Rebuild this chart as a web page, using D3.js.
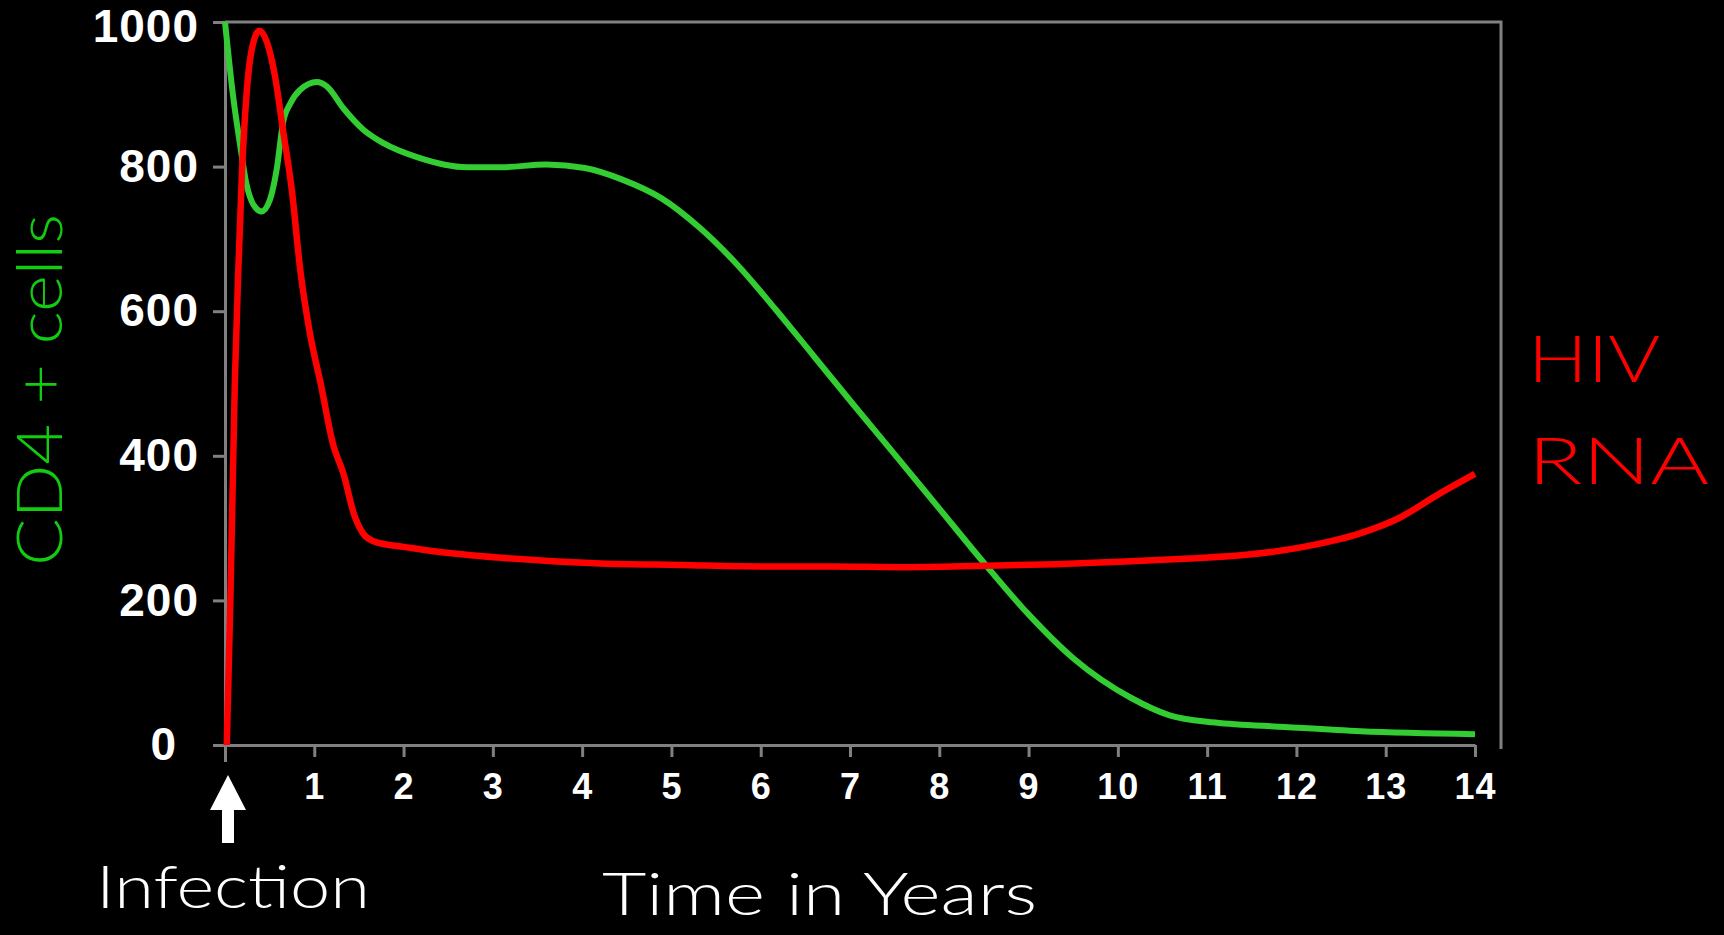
<!DOCTYPE html>
<html>
<head>
<meta charset="utf-8">
<script src="https://cdn.jsdelivr.net/npm/d3@7"></script>
<style>
  html, body { margin: 0; padding: 0; background: #000; }
  svg { display: block; }
  .axis text { font-family: "Liberation Sans", Arial, sans-serif; font-weight: bold; fill: #fff; letter-spacing: 1px; }
  .hand { font-family: Lato, "Open Sans", sans-serif; font-weight: 300; }
</style>
</head>
<body>
<svg id="chart"></svg>
<script>
    // tick labels
    var yearTicks = [0, 1, 2, 3, 4, 5, 6, 7, 8, 9, 10, 11, 12, 13, 14];
    var cellTicks = [0, 200, 400, 600, 800, 1000];

    // CD4+ cells (green)
    var cd4Years = [0, 0.09, 0.17, 0.24, 0.32, 0.41, 0.50, 0.58, 0.65, 0.73, 0.84, 1.03, 1.14, 1.33, 1.55, 1.78,
                    2.15, 2.71, 3.09, 3.60, 4.03, 4.45, 4.89, 5.32, 5.74, 6.17, 6.60, 7.03, 7.50, 8.00, 8.52,
                    8.99, 9.50, 10.15, 10.58, 11.09, 11.87, 12.72, 14.0];
    var cd4Cells = [1000, 898, 829, 776, 747, 738, 753, 797, 861, 887, 906, 917, 911, 880, 851, 832,
                    813, 799, 799, 803, 798, 782, 756, 715, 664, 602, 537, 472, 402, 327, 249,
                    182, 120, 65, 41, 31, 25, 19, 15];

    // HIV RNA (red)
    var rnaYears = [0.02, 0.06, 0.11, 0.15, 0.19, 0.24, 0.30, 0.385, 0.47, 0.56, 0.65, 0.75, 0.84, 0.95, 1.07,
                    1.21, 1.33, 1.44, 1.55, 1.66, 1.78, 2.0, 2.34, 3.09, 4.21, 5.10, 6.0, 6.82, 7.57, 8.52,
                    9.3, 10.15, 10.8, 11.44, 12.08, 12.72, 13.15, 13.58, 14.0];
    var rnaLevel = [0, 200, 501, 660, 792, 898, 962, 988, 972, 925, 850, 766, 660, 570, 501,
                    416, 374, 321, 292, 282, 278, 274, 268, 259, 251, 249, 247, 247, 246, 248,
                    250, 254, 258, 263, 274, 293, 314, 346, 375];

    var width = 1724;
    var height = 935;
    var chart = d3.select('#chart')
        .attr('width', width)
        .attr('height', height);

    var x = d3.scaleLinear().domain([0, 14]).range([225, 1475]);
    var y = d3.scaleLinear().domain([0, 1000]).range([745, 22]);
    var axisColor = '#808080';

    // -----------------------------------
    var line = d3.line()
        .x(function(d){ return x(d[0]); })
        .y(function(d){ return y(d[1]); })
        .curve(d3.curveMonotoneX);

    // frame (top + right)
    chart.append('path')
        .attr('d', 'M' + x(0) + ',' + y(1000) + 'H1501V' + (y(0) + 4))
        .attr('fill', 'none')
        .attr('stroke', axisColor)
        .attr('stroke-width', 3);

    // Draw the axis
    var yAxis = d3.axisLeft(y).tickValues(cellTicks).tickSize(12).tickSizeOuter(0).tickPadding(14)
        .tickFormat(d3.format('d'));
    var axisY = chart.append('g').attr('class', 'axis')
        .attr('transform', 'translate(' + x(0) + ',0)')
        .call(yAxis);
    axisY.selectAll('text').style('font-size', '46px');
    axisY.selectAll('.tick').filter(function(d){ return d === 0; })
        .select('text').attr('x', -48);
    axisY.selectAll('.tick').filter(function(d){ return d === 1000; })
        .select('text').attr('dy', '0.42em');

    var xAxis = d3.axisBottom(x).tickValues(yearTicks).tickSize(12).tickSizeOuter(0).tickPadding(16)
        .tickFormat(function(d){ return d === 0 ? '' : d; });
    var axisX = chart.append('g').attr('class', 'axis')
        .attr('transform', 'translate(0,' + y(0) + ')')
        .call(xAxis);
    axisX.selectAll('text').style('font-size', '36px');

    chart.selectAll('.axis path, .axis line')
        .attr('stroke', axisColor)
        .attr('stroke-width', 3);
    axisX.selectAll('.tick').filter(function(d){ return d === 0; })
        .select('line').attr('y2', 17);

    // the two curves
    chart.append('path')
        .datum(d3.zip(cd4Years, cd4Cells))
        .attr('d', line)
        .attr('fill', 'none')
        .attr('stroke', '#33cc33')
        .attr('stroke-width', 6)
        .attr('stroke-linejoin', 'round');

    chart.append('path')
        .datum(d3.zip(rnaYears, rnaLevel))
        .attr('d', line)
        .attr('fill', 'none')
        .attr('stroke', '#ff0000')
        .attr('stroke-width', 6.5)
        .attr('stroke-linejoin', 'round');

    // infection arrow
    var ax = x(0) + 3;
    chart.append('path')
        .attr('d', 'M' + ax + ',775L' + (ax + 18) + ',810H' + (ax + 6) + 'V843H' + (ax - 6) + 'V810H' + (ax - 18) + 'Z')
        .attr('fill', '#fff');

    // hand-written labels
    chart.append('text').attr('class', 'hand')
        .attr('x', 96).attr('y', 908)
        .attr('textLength', 274).attr('lengthAdjust', 'spacingAndGlyphs')
        .style('font-size', '60px').attr('fill', '#fff')
        .text('Infection');

    chart.append('text').attr('class', 'hand')
        .attr('x', 602).attr('y', 915)
        .attr('textLength', 435).attr('lengthAdjust', 'spacingAndGlyphs')
        .style('font-size', '60px').attr('fill', '#fff')
        .text('Time in Years');

    chart.append('text').attr('class', 'hand')
        .attr('transform', 'translate(62,566) rotate(-90)')
        .attr('textLength', 352).attr('lengthAdjust', 'spacingAndGlyphs')
        .style('font-size', '64px').attr('fill', '#11cc11')
        .text('CD4 + cells');

    chart.append('text').attr('class', 'hand')
        .attr('x', 1528).attr('y', 382)
        .attr('textLength', 132).attr('lengthAdjust', 'spacingAndGlyphs')
        .style('font-size', '66px').attr('fill', '#ff0000')
        .text('HIV');

    chart.append('text').attr('class', 'hand')
        .attr('x', 1528).attr('y', 484)
        .attr('textLength', 181).attr('lengthAdjust', 'spacingAndGlyphs')
        .style('font-size', '66px').attr('fill', '#ff0000')
        .text('RNA');
</script>
</body>
</html>
